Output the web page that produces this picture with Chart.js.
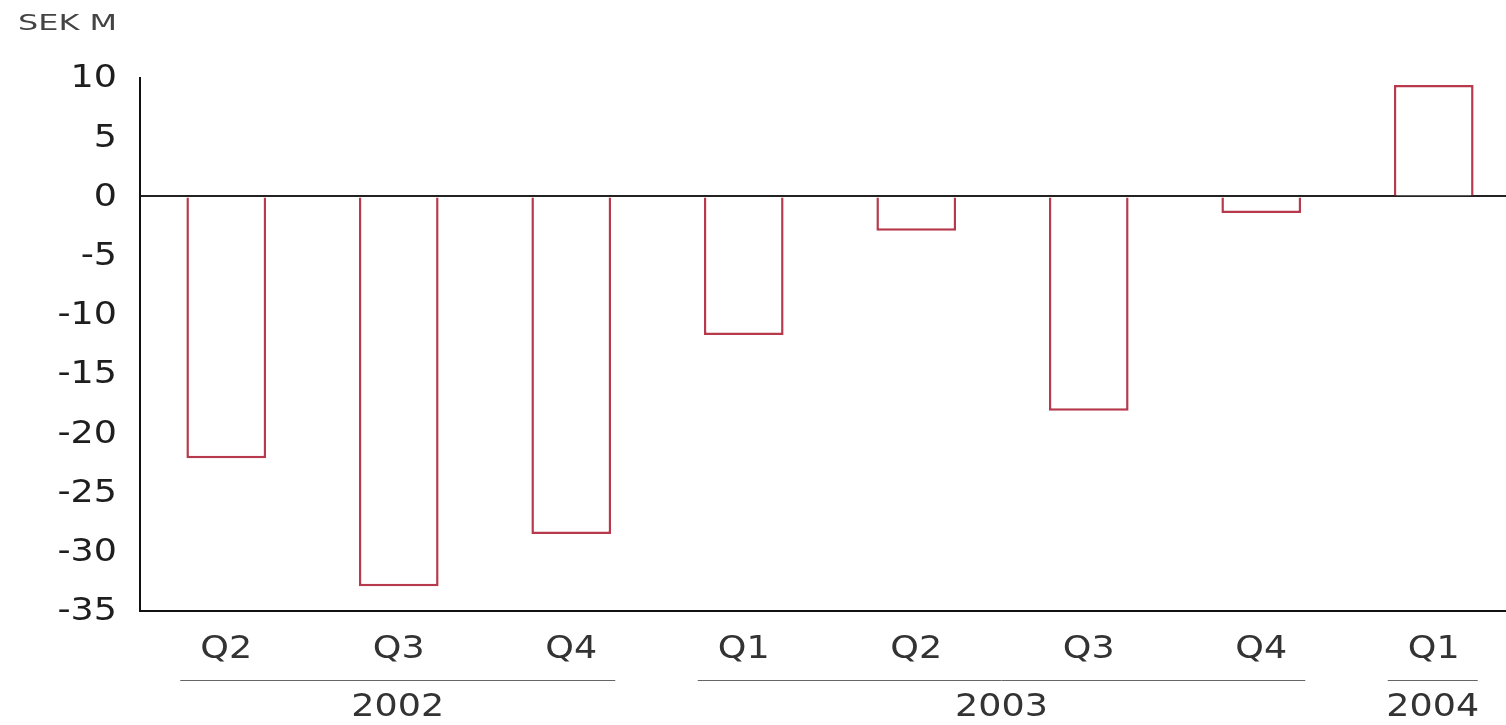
<!DOCTYPE html>
<html>
<head>
<meta charset="utf-8">
<script src="https://cdn.jsdelivr.net/npm/chart.js@4/dist/chart.umd.min.js"></script>
<style>
  html, body { margin: 0; padding: 0; background: #fff; overflow: hidden; }
  #wrap { position: relative; width: 1520px; height: 725px; }
  #unit { position: absolute; left: 18px; top: 10px; font: 22px "DejaVu Sans", sans-serif; color: #444;
          transform: scaleX(1.45); transform-origin: left top; }
</style>
</head>
<body>
<div id="wrap">
  <div id="unit">SEK M</div>
  <canvas id="c" width="1520" height="725"></canvas>
</div>
<script>
const quarters = ['Q2', 'Q3', 'Q4', 'Q1', 'Q2', 'Q3', 'Q4', 'Q1'];
const values = [-22.1, -32.9, -28.5, -11.7, -2.9, -18.1, -1.4, 9.4];
// year groups: label, first and last quarter index
const years = ['2002', '2003', '2004'];
const yearStart = [0, 3, 7];
const yearEnd = [2, 6, 7];
const yTicks = [10, 5, 0, -5, -10, -15, -20, -25, -30, -35];

const FONT = '"DejaVu Sans", Verdana, sans-serif';
const STRETCH = 1.14;

function stretchText(ctx, txt, x, y, align) {
  ctx.save();
  ctx.translate(x, y);
  ctx.scale(STRETCH, 1);
  ctx.textAlign = align;
  ctx.fillText(txt, 0, 0);
  ctx.restore();
}

// labels drawn here so they can be widened like the original
const labelsPlugin = {
  id: 'labelsPlugin',
  afterDraw(chart) {
    const x = chart.scales.x, y = chart.scales.y, ctx = chart.ctx;
    ctx.save();
    ctx.font = '32px ' + FONT;
    ctx.textBaseline = 'middle';
    ctx.fillStyle = '#1e1e1e';
    y.ticks.forEach(t => stretchText(ctx, String(t.value), 117, y.getPixelForValue(t.value) + 1, 'right'));
    ctx.fillStyle = '#333';
    quarters.forEach((q, i) => stretchText(ctx, q, x.getPixelForValue(i), 650, 'center'));
    ctx.strokeStyle = '#666';
    ctx.lineWidth = 1;
    years.forEach((yr, i) => {
      const a = x.getPixelForValue(yearStart[i]) - 46;
      const b = x.getPixelForValue(yearEnd[i]) + 44;
      ctx.beginPath();
      ctx.moveTo(a, 680.5);
      ctx.lineTo(b, 680.5);
      ctx.stroke();
      stretchText(ctx, yr, (a + b) / 2, 708, 'center');
    });
    ctx.restore();
  }
};

new Chart(document.getElementById('c'), {
  type: 'bar',
  data: {
    labels: quarters,
    datasets: [{
      data: values,
      backgroundColor: '#fff',
      borderColor: '#b73a4c',
      borderWidth: 2.5,
      barPercentage: 0.462,
      categoryPercentage: 1
    }]
  },
  options: {
    responsive: false,
    animation: false,
    layout: { padding: { top: 78, right: 0, bottom: 0, left: 0 } },
    plugins: { legend: { display: false }, tooltip: { enabled: false } },
    scales: {
      x: {
        grid: { display: false, drawTicks: false },
        border: { display: true, color: '#111', width: 2 },
        ticks: { display: false },
        afterFit(s) { s.height = 114; }
      },
      y: {
        min: -35, max: 10,
        afterBuildTicks(s) { s.ticks = yTicks.map(v => ({ value: v })); },
        grid: {
          drawTicks: false,
          color: c => c.tick && c.tick.value === 0 ? '#222' : 'rgba(0,0,0,0)',
          lineWidth: 2
        },
        border: { display: true, color: '#111', width: 2 },
        ticks: { display: false },
        afterFit(s) { s.width = 140; }
      }
    }
  },
  plugins: [labelsPlugin]
});
</script>
</body>
</html>
